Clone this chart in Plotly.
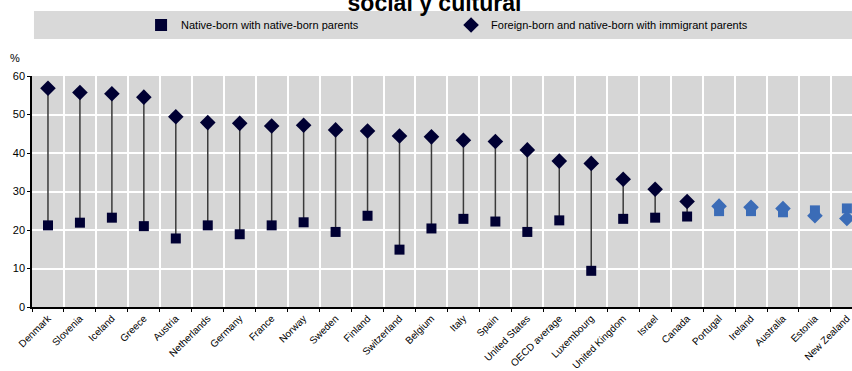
import plotly.graph_objects as go

# Share of people (%) by group and country
countries = ["Denmark", "Slovenia", "Iceland", "Greece", "Austria", "Netherlands", "Germany",
             "France", "Norway", "Sweden", "Finland", "Switzerland", "Belgium", "Italy", "Spain",
             "United States", "OECD average", "Luxembourg", "United Kingdom", "Israel", "Canada",
             "Portugal", "Ireland", "Australia", "Estonia", "New Zealand"]
native_parents = [21.2, 21.9, 23.2, 21.0, 17.8, 21.2, 18.9, 21.2, 22.0, 19.5, 23.7, 14.9, 20.4,
                  22.9, 22.2, 19.5, 22.5, 9.4, 22.9, 23.2, 23.5, 24.9, 24.9, 24.6, 25.1, 25.6]
immigrant_parents = [56.8, 55.7, 55.4, 54.5, 49.4, 47.9, 47.7, 47.0, 47.2, 46.0, 45.7, 44.4, 44.2,
                     43.3, 43.0, 40.8, 37.9, 37.3, 33.2, 30.6, 27.4, 26.2, 25.9, 25.6, 23.7, 23.0]
# countries where the gap is not significant are drawn in blue
not_significant = {"Portugal", "Ireland", "Australia", "Estonia", "New Zealand"}

NAVY = "#000033"
BLUE = "#3b6cb7"
colors = [BLUE if c in not_significant else NAVY for c in countries]

FONT = "Liberation Sans, Arial, sans-serif"

# connector segments between the two values
seg_x, seg_y = [], []
for c, a, b in zip(countries, native_parents, immigrant_parents):
    if c in not_significant:
        continue
    seg_x += [c, c, None]
    seg_y += [a, b, None]

fig = go.Figure()
fig.add_trace(go.Scatter(x=seg_x, y=seg_y, mode="lines", showlegend=False, hoverinfo="skip",
                         line=dict(color="#3a3a3a", width=1.5)))
fig.add_trace(go.Scatter(x=countries, y=native_parents, mode="markers",
                         name="Native-born with native-born parents",
                         marker=dict(symbol="square", size=10, color=colors,
                                     line=dict(width=0))))
fig.add_trace(go.Scatter(x=countries, y=immigrant_parents, mode="markers",
                         name="Foreign-born and native-born with immigrant parents",
                         marker=dict(symbol="diamond", size=12, color=colors,
                                     line=dict(width=0))))

# grey band behind the legend
fig.add_shape(type="rect", xref="paper", yref="paper", x0=0.0024, x1=1.0, y0=1.160, y1=1.281,
              fillcolor="#d9d9d9", line=dict(width=0), layer="below")

fig.add_annotation(text="%", xref="paper", yref="paper", x=-0.012, y=1.08, xanchor="right",
                   yanchor="middle", showarrow=False,
                   font=dict(family=FONT, size=11, color="black"))

fig.update_layout(
    width=852, height=371,
    margin=dict(l=32, r=0, t=76, b=64, autoexpand=False),
    paper_bgcolor="white",
    plot_bgcolor="#d6d6d6",
    title=dict(text="<b>social y cultural</b>", x=0.51, xanchor="center", xref="container",
               y=0.97, yanchor="bottom", yref="container",
               font=dict(family=FONT, size=23, color="black")),
    legend=dict(orientation="h", x=0.133, y=1.221, xanchor="left", yanchor="middle",
                bgcolor="rgba(0,0,0,0)", entrywidth=265, entrywidthmode="pixels",
                font=dict(family=FONT, size=11, color="black"), itemsizing="constant"),
    xaxis=dict(type="category", range=[-0.5, 25.16], tickangle=-45, tickson="boundaries",
               ticks="outside", ticklen=3, tickcolor="black", showline=True, linecolor="black",
               linewidth=1.5, showgrid=True, gridcolor="white", gridwidth=1.5,
               tickfont=dict(family=FONT, size=10, color="black")),
    yaxis=dict(range=[0, 60], dtick=10, ticks="outside", ticklen=3, tickcolor="black",
               showline=True, linecolor="black", linewidth=1.5, showgrid=True,
               gridcolor="white", gridwidth=1.5, zeroline=False,
               tickfont=dict(family=FONT, size=11, color="black")),
)

fig.write_html("out.html")
